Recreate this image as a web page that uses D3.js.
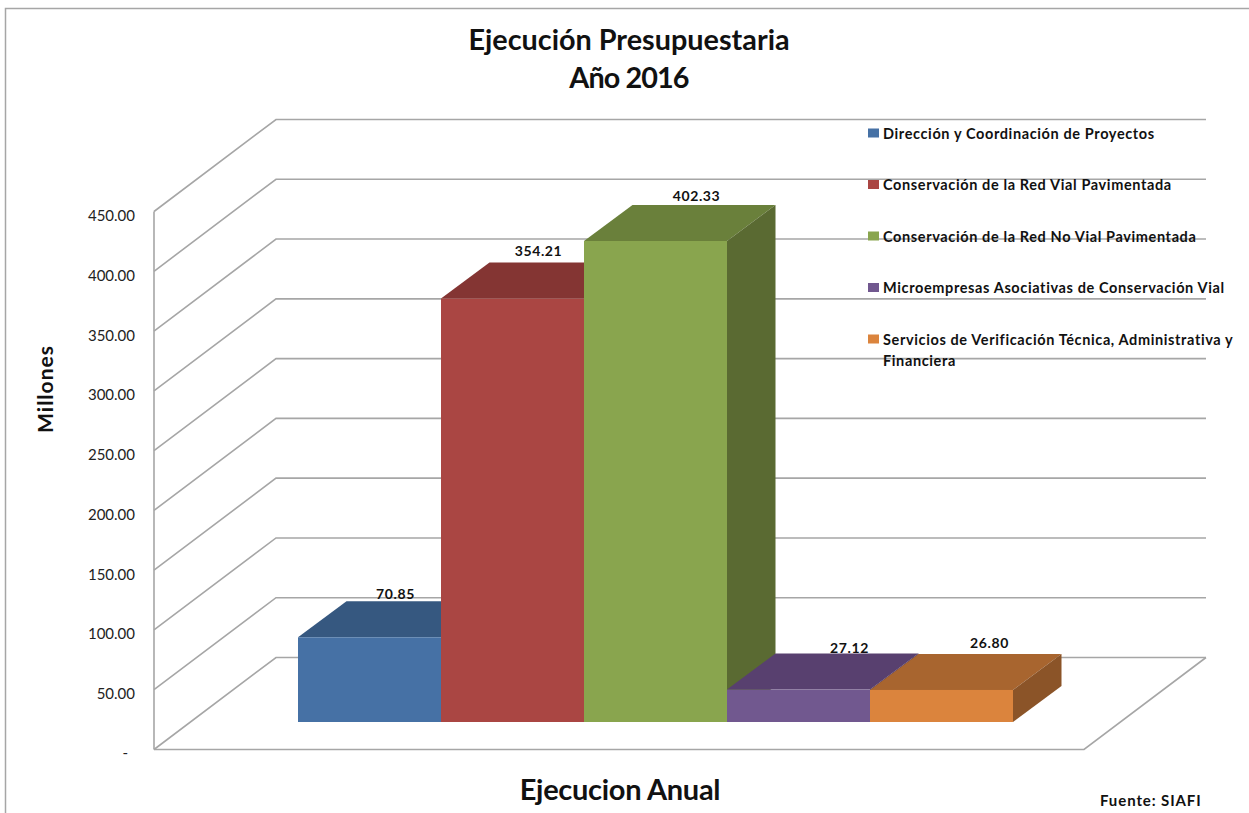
<!DOCTYPE html>
<html>
<head>
<meta charset="utf-8">
<script src="https://cdn.jsdelivr.net/npm/d3@7"></script>
<style>
  html, body { margin: 0; padding: 0; background: #fff; overflow: hidden; }
  text { font-family: Lato, "Open Sans", sans-serif; fill: #111; }
</style>
</head>
<body>
<script>
var categories = [
    "Dirección y Coordinación de Proyectos",
    "Conservación de la Red Vial Pavimentada",
    "Conservación de la Red No Vial Pavimentada",
    "Microempresas Asociativas de Conservación Vial",
    "Servicios de Verificación Técnica, Administrativa y Financiera"
];
var values = [70.85, 354.21, 402.33, 27.12, 26.80];
var valueLabels = ["70.85", "354.21", "402.33", "27.12", "26.80"];
var yTicks = [0, 50, 100, 150, 200, 250, 300, 350, 400, 450];

var frontColors = ["#4671a5", "#aa4643", "#89a54e", "#71588f", "#db843d"];
var topColors = ["#365880", "#843533", "#6a803b", "#58406f", "#a8652f"];
var sideColors = ["#2f4d70", "#742e2c", "#5a6a32", "#4c3760", "#8b5428"];

// the value labels do not sit in the same spot on each bar
var labelShiftX = [-12, -12, 3, 13, 10];
var labelShiftY = [2, -3, 0, 3, -2];

var svgWidth = 1249, svgHeight = 813;

var svg = d3.select("body")
    .append("svg")
    .attr("width", svgWidth)
    .attr("height", svgHeight);

// outer frame, only top and left show in the picture
svg.append("path")
    .attr("d", "M5.5,813V8.5H1249")
    .attr("fill", "none")
    .attr("stroke", "#a6a6a6")
    .attr("stroke-width", 1.5);

// scales
var y = d3.scaleLinear().domain([0, 450]).range([749.5, 211.5]);
var x = d3.scaleBand().domain(categories).range([298, 1013]);

// 3d offsets
var wallDx = 122, wallDy = -92;
var barDx = 48.5, barDy = -36;
var barLift = y(0) - 722;
var wallRight = 1206;

// walls and gridlines
var grid = svg.append("g")
    .attr("fill", "none")
    .attr("stroke", "#a6a6a6")
    .attr("stroke-width", 1.6);

grid.selectAll("path.tick-line")
    .data(yTicks)
    .enter()
    .append("path")
    .attr("class", "tick-line")
    .attr("d", function (d) {
        return d3.line()([
            [154, y(d)],
            [154 + wallDx, y(d) + wallDy],
            [wallRight, y(d) + wallDy]
        ]);
    });

// floor front and right edges
grid.append("path")
    .attr("d", d3.line()([
        [154, y(0)],
        [wallRight - wallDx, y(0)],
        [wallRight, y(0) + wallDy]
    ]));
grid.append("path")
    .attr("d", d3.line()([[154, y(450)], [154, y(0)]]));

// y axis
var axisG = svg.append("g")
    .attr("transform", "translate(143,0)")
    .call(d3.axisLeft(y)
        .tickValues(yTicks)
        .tickSize(0)
        .tickFormat(function (d) { return d === 0 ? "-" : d3.format(".2f")(d); }));
axisG.select(".domain").remove();
axisG.selectAll("text")
    .attr("x", function (d) { return d === 0 ? -15 : -8; })
    .attr("dy", function (d) { return d === 0 ? 8 : 9; })
    .style("font-size", "15px")
    .style("font-family", "Lato, sans-serif")
    .style("fill", "#222");

// bars, painted left to right so each front covers the neighbour's top
var baseY = function () { return y(0) - barLift; };
var barTop = function (d) { return y(d) - barLift; };

var bars = svg.append("g")
    .selectAll("g")
    .data(categories)
    .enter()
    .append("g");

// tops and sides first, then fronts
bars.append("polygon")
    .attr("points", function (d, i) {
        var x0 = x(d), x1 = x0 + x.bandwidth(), t = barTop(values[i]);
        return [[x0, t], [x1, t], [x1 + barDx, t + barDy], [x0 + barDx, t + barDy]].join(" ");
    })
    .attr("fill", function (d, i) { return topColors[i]; });

bars.append("polygon")
    .attr("points", function (d, i) {
        var x1 = x(d) + x.bandwidth(), t = barTop(values[i]), b = baseY();
        return [[x1, t], [x1 + barDx, t + barDy], [x1 + barDx, b + barDy], [x1, b]].join(" ");
    })
    .attr("fill", function (d, i) { return sideColors[i]; });

bars.append("rect")
    .attr("x", function (d) { return x(d); })
    .attr("y", function (d, i) { return barTop(values[i]); })
    .attr("width", x.bandwidth())
    .attr("height", function (d, i) { return baseY() - barTop(values[i]); })
    .attr("fill", function (d, i) { return frontColors[i]; });

// value labels
svg.append("g")
    .selectAll("text")
    .data(valueLabels)
    .enter()
    .append("text")
    .attr("x", function (d, i) { return x(categories[i]) + x.bandwidth() / 2 + 38 + labelShiftX[i]; })
    .attr("y", function (d, i) { return barTop(values[i]) + barDy - 4 + labelShiftY[i]; })
    .attr("text-anchor", "middle")
    .attr("font-size", 14)
    .attr("font-weight", "bold")
    .attr("letter-spacing", 0.6)
    .text(function (d) { return d; });

// titles
svg.append("text").attr("x", 629).attr("y", 50).attr("text-anchor", "middle")
    .attr("font-size", 28.8).attr("font-weight", "bold").text("Ejecución Presupuestaria");
svg.append("text").attr("x", 629).attr("y", 88).attr("text-anchor", "middle")
    .attr("font-size", 28.8).attr("font-weight", "bold").attr("letter-spacing", -0.9).text("Año 2016");
svg.append("text").attr("x", 620).attr("y", 800).attr("text-anchor", "middle")
    .attr("font-size", 29).attr("font-weight", "bold").attr("letter-spacing", -0.3).text("Ejecucion Anual");
svg.append("text")
    .attr("transform", "translate(53,389) rotate(-90)")
    .attr("text-anchor", "middle")
    .attr("font-size", 21).attr("font-weight", "bold").attr("letter-spacing", 1).text("Millones");
svg.append("text").attr("x", 1100).attr("y", 806)
    .attr("font-size", 15).attr("font-weight", "bold").attr("letter-spacing", 0.9).text("Fuente: SIAFI");

// legend
var legendY = d3.scalePoint().domain(categories).range([133, 339]);
var legend = svg.append("g")
    .selectAll("g")
    .data(categories)
    .enter()
    .append("g")
    .attr("transform", function (d) { return "translate(868," + legendY(d) + ")"; });

legend.append("rect")
    .attr("y", -4.5)
    .attr("width", 11)
    .attr("height", 9)
    .attr("fill", function (d, i) { return frontColors[i]; });

legend.append("text")
    .attr("x", 15)
    .attr("y", 5.5)
    .attr("font-size", 14.5)
    .attr("font-weight", "bold")
    .attr("letter-spacing", 0.62)
    .each(function (d) {
        var node = d3.select(this);
        if (d.indexOf("Financiera") > -1) {
            node.append("tspan").text("Servicios de Verificación Técnica, Administrativa y");
            node.append("tspan").attr("x", 15).attr("dy", 21).text("Financiera");
        } else {
            node.text(d);
        }
    });
</script>
</body>
</html>
